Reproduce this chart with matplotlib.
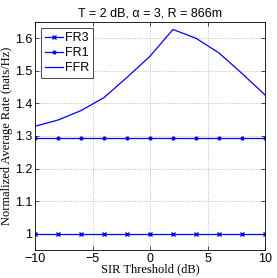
import matplotlib
matplotlib.use("Agg")
import matplotlib.pyplot as plt

x = [-10, -8, -6, -4, -2, 0, 2, 4, 6, 8, 10]
fr3 = [1.0] * 11
fr1 = [1.295] * 11
ffr = [1.330, 1.349, 1.378, 1.418, 1.480, 1.545, 1.627, 1.600, 1.555, 1.492, 1.426]

fig = plt.figure(figsize=(2.77, 2.78), dpi=100)
ax = fig.add_axes([35/277, 1 - 250/278, 230/277, 228/278])
c = "#0000ff"
ax.plot(x, fr3, color=c, lw=0.9, marker="x", ms=3.5, mew=1, label="FR3")
ax.plot(x, fr1, color=c, lw=0.9, marker=".", ms=4, label="FR1")
ax.plot(x, ffr, color=c, lw=0.9, label="FFR")
ax.set_xlim(-10, 10)
ax.set_ylim(0.95, 1.65)
ax.set_xticks([-10, -5, 0, 5, 10])
ax.set_xticklabels(["\u221210", "\u22125", "0", "5", "10"])
ax.set_yticks([1.0, 1.1, 1.2, 1.3, 1.4, 1.5, 1.6])
ax.set_yticklabels(["1", "1.1", "1.2", "1.3", "1.4", "1.5", "1.6"])
for lab in ax.get_xticklabels() + ax.get_yticklabels():
    lab.set_family("Liberation Sans")
    lab.set_fontsize(9)
ax.tick_params(direction="in", length=3, width=0.5, pad=2)
ax.tick_params(top=True, right=True)
ax.grid(True, linestyle=":", color="#b0b0b0", lw=0.6)
for s in ax.spines.values():
    s.set_linewidth(0.6)
ax.set_xlabel("SIR Threshold (dB)", family="Liberation Serif", fontsize=9, labelpad=-1)
ax.set_ylabel("Normalized Average Rate (nats/Hz)", family="Liberation Serif", fontsize=9, labelpad=1)
ax.set_title("T = 2 dB, \u03b1 = 3, R = 866m", family="Liberation Sans", fontsize=9, pad=4)
leg = ax.legend(loc="upper left", prop={"family": "Liberation Sans", "size": 9},
                handlelength=1.4, handletextpad=0.2, borderpad=0.3, labelspacing=0.25,
                fancybox=False, edgecolor="black", framealpha=1)
leg.get_frame().set_linewidth(0.5)
fig.savefig("out.png", dpi=100)
